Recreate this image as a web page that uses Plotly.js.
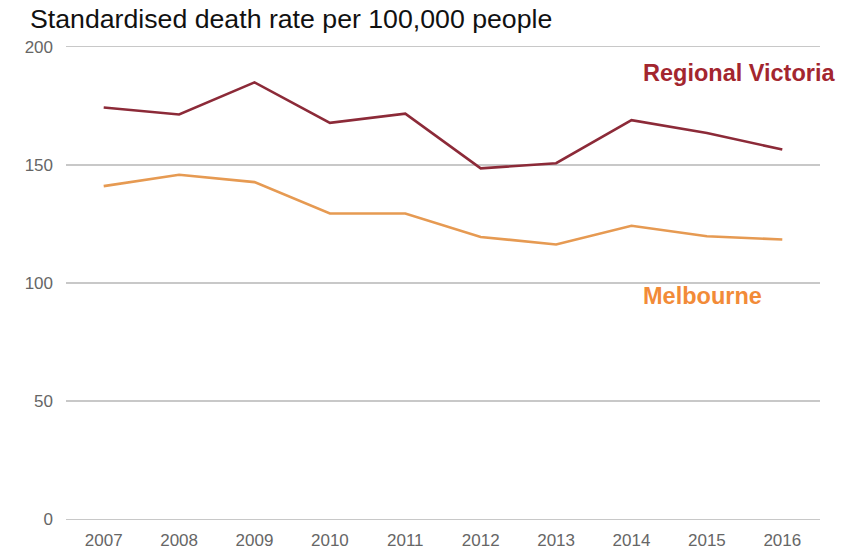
<!DOCTYPE html>
<html>
<head>
<meta charset="utf-8">
<script src="https://cdn.plot.ly/plotly-3.0.1.min.js"></script>
<style>
  html, body { margin: 0; padding: 0; background: #fff; }
  #chart { width: 841px; height: 551px; }
</style>
</head>
<body>
<div id="chart"></div>
<script>
// Standardised death rate per 100,000 people, by year
const years = ['2007', '2008', '2009', '2010', '2011', '2012', '2013', '2014', '2015', '2016'];
const regionalVictoria = [174.3, 171.3, 184.9, 167.8, 171.7, 148.5, 150.7, 168.9, 163.5, 156.5];
const melbourne = [141.0, 145.8, 142.7, 129.4, 129.4, 119.5, 116.3, 124.2, 119.8, 118.4];
const yTicks = [0, 50, 100, 150, 200];

const traces = [
  {
    x: years, y: regionalVictoria, type: 'scatter', mode: 'lines',
    name: 'Regional Victoria',
    line: { color: '#8c2a38', width: 2.6 },
    hoverinfo: 'x+y'
  },
  {
    x: years, y: melbourne, type: 'scatter', mode: 'lines',
    name: 'Melbourne',
    line: { color: '#e69a52', width: 2.6 },
    hoverinfo: 'x+y'
  }
];

const tickFont = { family: 'Liberation Sans, Arial, sans-serif', size: 17, color: '#666666' };

const layout = {
  width: 841, height: 551,
  margin: { l: 66, r: 21, t: 42, b: 27 },
  paper_bgcolor: '#ffffff',
  plot_bgcolor: '#ffffff',
  showlegend: false,
  title: {
    text: 'Standardised death rate per 100,000 people',
    font: { family: 'Liberation Sans, Arial, sans-serif', size: 26.7, color: '#111111' },
    x: 30 / 841, xref: 'container', xanchor: 'left',
    y: 1 - 19 / 551, yref: 'container', yanchor: 'middle'
  },
  xaxis: {
    type: 'category',
    range: [-0.5, years.length - 0.5],
    showgrid: false, zeroline: false, showline: false,
    ticks: '',
    tickfont: tickFont,
    ticklabelstandoff: 4
  },
  yaxis: {
    // padded range so the gridlines at 0 and 200 sit inside the plot area
    range: [-2, 202],
    tickvals: yTicks,
    ticktext: yTicks.map(String),
    showgrid: true, gridcolor: '#c8c8c8', gridwidth: 1.5,
    zeroline: false, showline: false,
    ticks: '',
    tickfont: tickFont,
    ticklabelstandoff: 12
  },
  annotations: [
    {
      text: '<b>Regional Victoria</b>',
      xref: 'paper', x: (641 - 66) / 754, xanchor: 'left',
      yref: 'y', y: 188.8, yanchor: 'middle',
      showarrow: false,
      font: { family: 'Liberation Sans, Arial, sans-serif', size: 23.5, color: '#a3262f' }
    },
    {
      text: '<b>Melbourne</b>',
      xref: 'paper', x: (641 - 66) / 754, xanchor: 'left',
      yref: 'y', y: 94.4, yanchor: 'middle',
      showarrow: false,
      font: { family: 'Liberation Sans, Arial, sans-serif', size: 23.5, color: '#f28b38' }
    }
  ]
};

Plotly.newPlot('chart', traces, layout, { displayModeBar: false, staticPlot: true });
</script>
</body>
</html>
